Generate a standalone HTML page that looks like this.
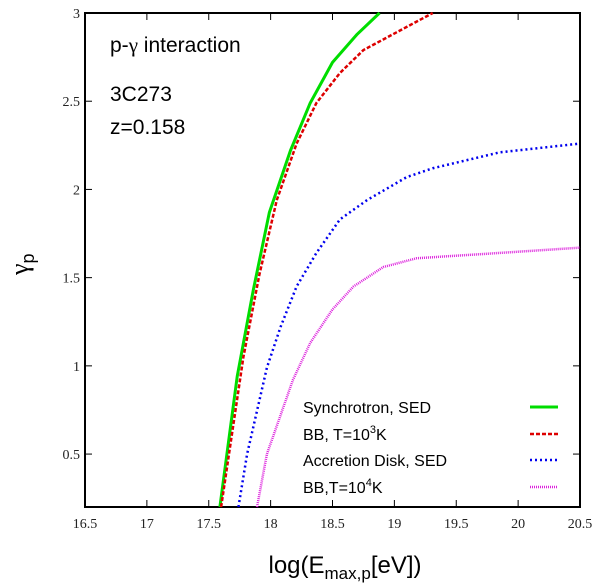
<!DOCTYPE html>
<html><head><meta charset="utf-8"><style>
body{margin:0;background:#fff}
svg{display:block}
.t{font-family:"Liberation Serif",serif;font-size:14px;fill:#222}
.s{font-family:"Liberation Sans",sans-serif;fill:#000}
</style></head><body>
<svg id="c" width="600" height="583" xmlns="http://www.w3.org/2000/svg">
<g id="grid"></g>
<rect x="85" y="13" width="495" height="494" fill="none" stroke="#000" stroke-width="2"/>
<text class="s" x="110" y="52" font-size="21">p-<tspan font-family="Liberation Serif">γ</tspan> interaction</text>
<text class="s" x="110" y="101" font-size="21">3C273</text>
<text class="s" x="110" y="134" font-size="21">z=0.158</text>
<text class="s" x="345" y="573" font-size="24" text-anchor="middle">log(E<tspan font-size="17" dy="6">max,p</tspan><tspan dy="-6">[eV])</tspan></text>
<text class="s" transform="translate(28,275) rotate(-90)" font-size="26"><tspan font-family="Liberation Serif">γ</tspan><tspan font-size="18" dy="6">p</tspan></text>
<g id="series"></g>
<g id="legend">
<text class="s" x="303" y="413" font-size="16">Synchrotron, SED</text>
<text class="s" x="303" y="440" font-size="16">BB, T=10<tspan font-size="11" dy="-7">3</tspan><tspan dy="7">K</tspan></text>
<text class="s" x="303" y="466" font-size="16">Accretion Disk, SED</text>
<text class="s" x="303" y="493" font-size="16">BB,T=10<tspan font-size="11" dy="-7">4</tspan><tspan dy="7">K</tspan></text>
<line x1="530" x2="558" y1="407" y2="407" stroke="#00dd00" stroke-width="3"/>
<line x1="530" x2="558" y1="434" y2="434" stroke="#dd0000" stroke-width="2.5" stroke-dasharray="4,2"/>
<line x1="530" x2="558" y1="460" y2="460" stroke="#0000ee" stroke-width="2.5" stroke-dasharray="2,3"/>
<line x1="530" x2="558" y1="487" y2="487" stroke="#dd22dd" stroke-width="2.5" stroke-dasharray="1,1"/>
</g>
</svg>
<script>
const xTicks=[16.5,17,17.5,18,18.5,19,19.5,20,20.5];
const yTicks=[0.5,1,1.5,2,2.5,3];
const synX=[17.59,17.73,17.86,17.99,18.16,18.32,18.5,18.7,18.88];
const synY=[0.2,0.94,1.43,1.87,2.22,2.49,2.72,2.88,3.0];
const bb3X=[17.6,17.78,17.91,18.05,18.21,18.37,18.56,18.75,18.99,19.31];
const bb3Y=[0.2,1.05,1.52,1.94,2.26,2.49,2.66,2.79,2.88,3.0];
const diskX=[17.74,17.81,17.97,18.08,18.21,18.37,18.56,18.78,19.1,19.31,19.85,20.5];
const diskY=[0.2,0.5,0.99,1.22,1.45,1.64,1.83,1.94,2.07,2.12,2.21,2.26];
const bb4X=[17.89,17.97,18.18,18.32,18.5,18.67,18.91,19.18,19.85,20.5];
const bb4Y=[0.2,0.5,0.92,1.13,1.32,1.45,1.56,1.61,1.64,1.67];
const X=v=>85+(v-16.5)/4*495;
const Y=v=>507-(v-0.2)/2.8*494;
const NS='http://www.w3.org/2000/svg';
const g=document.getElementById('grid');
function mk(t,a){const e=document.createElementNS(NS,t);for(const k in a)e.setAttribute(k,a[k]);return e;}
xTicks.forEach(v=>{
 const l=mk('line',{x1:X(v),x2:X(v),y1:507,y2:500,stroke:'#000'});
 
 
 g.appendChild(l);
 const l2=mk('line',{x1:X(v),x2:X(v),y1:13,y2:20,stroke:'#000'});
 
 
 g.appendChild(l2);
 const t=mk('text',{x:X(v),y:528,'text-anchor':'middle',class:'t'});t.textContent=v;
 
 
 g.appendChild(t);
});
yTicks.forEach(v=>{
 const l=mk('line',{x1:85,x2:92,y1:Y(v),y2:Y(v),stroke:'#000'});
 
 
 g.appendChild(l);
 const r=mk('line',{x1:573,x2:580,y1:Y(v),y2:Y(v),stroke:'#000'});
 
 
 g.appendChild(r);
 const t=mk('text',{x:80,y:Y(v)+5,'text-anchor':'end',class:'t'});t.textContent=v;
 
 
 g.appendChild(t);
});
const s=document.getElementById('series');
function line(xs,ys,col,w,dash,name){
 const p=mk('polyline',{points:xs.map((x,i)=>X(x)+','+Y(ys[i])).join(' '),fill:'none',stroke:col,'stroke-width':w,'stroke-linejoin':'round'});
 if(dash)p.setAttribute('stroke-dasharray',dash);
 
 
 s.appendChild(p);
}
line(bb4X,bb4Y,'#dd22dd',2.5,'1,1','series-bb-1e4k');
line(diskX,diskY,'#0000ee',2.5,'2,3','series-accretion-disk');
line(synX,synY,'#00dd00',3,null,'series-synchrotron');
line(bb3X,bb3Y,'#dd0000',2.5,'4,2','series-bb-1e3k');
</script>
</body></html>
